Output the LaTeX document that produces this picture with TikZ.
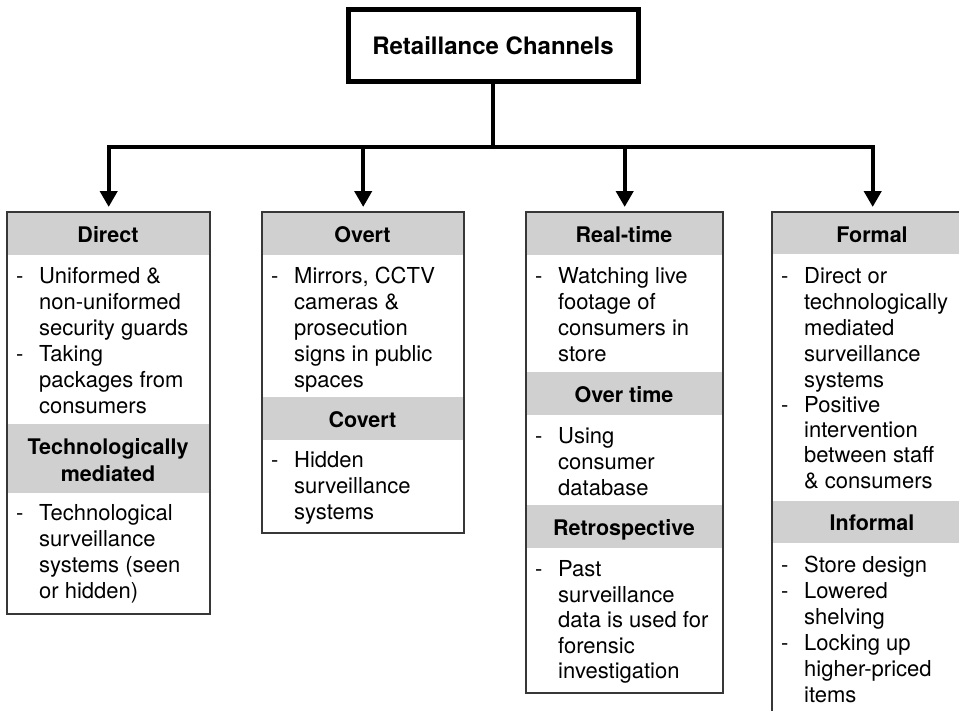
\documentclass[tikz,border=0pt]{standalone}
\usepackage{fontspec}
\setmainfont{TeX Gyre Heros}
\usetikzlibrary{arrows.meta}
\definecolor{hdrgray}{RGB}{208,208,208}
\definecolor{edgegray}{RGB}{55,55,55}
\newcommand\tl[4]{\node[tline] (#1) at (#2,#3) {#4};}
\newcommand\hl[4]{\node[hline] (#1) at (#2,#3) {#4};}
\begin{document}
\begin{tikzpicture}[x=1pt,y=-1pt,
  tline/.style={anchor=base west,inner sep=0pt,font=\fontsize{22}{26}\selectfont},
  hline/.style={anchor=base,inner sep=0pt,font=\fontsize{21.5}{26}\selectfont\bfseries},
  hdr/.style={fill=hdrgray},
  boxframe/.style={draw=edgegray,line width=1.4pt,fill=none},
  conn/.style={line width=4pt},
  arr/.style={line width=4pt,-{Triangle[width=17pt,length=16pt]},shorten >=5pt}]
\useasboundingbox (0,0) rectangle (959,710);
\clip (0,0) rectangle (959,710);
% title
\node[draw,line width=5pt,minimum width=290pt,minimum height=72pt,inner sep=0pt,
  font=\fontsize{24}{28}\selectfont\bfseries] (title) at (493,45.5) {Retaillance Channels};
% boxes (frames as nodes)
\node[boxframe,anchor=north west,minimum width=202pt,minimum height=401pt,inner sep=0pt] (b1) at (7,212) {};
\node[boxframe,anchor=north west,minimum width=201pt,minimum height=320pt,inner sep=0pt] (b2) at (262,212) {};
\node[boxframe,anchor=north west,minimum width=196pt,minimum height=480pt,inner sep=0pt] (b3) at (526,212) {};
\node[boxframe,anchor=north west,minimum width=200pt,minimum height=520pt,inner sep=0pt] (b4) at (772,212) {};
% headers
\fill[hdr] (7,212) rectangle (209,255);
\fill[hdr] (7,424) rectangle (209,493);
\fill[hdr] (262,212) rectangle (463,255);
\fill[hdr] (262,397) rectangle (463,440);
\fill[hdr] (526,212) rectangle (722,255);
\fill[hdr] (526,372) rectangle (722,415);
\fill[hdr] (526,505) rectangle (722,548);
\fill[hdr] (772,212) rectangle (972,254);
\fill[hdr] (772,501) rectangle (972,543);
% redraw frames on top
\draw[boxframe] (b1.north west) rectangle (b1.south east);
\draw[boxframe] (b2.north west) rectangle (b2.south east);
\draw[boxframe] (b3.north west) rectangle (b3.south east);
\draw[boxframe] (b4.north west) rectangle (b4.south east);
% connectors
\coordinate (hub) at (493,147);
\draw[conn] (title.south) -- (hub);
\draw[conn,line cap=rect] (b1.north |- hub) -- (b4.north |- hub);
\draw[arr] (b1.north |- hub) -- (b1.north);
\draw[arr] (b2.north |- hub) -- (b2.north);
\draw[arr] (b3.north |- hub) -- (b3.north);
\draw[arr] (b4.north |- hub) -- (b4.north);
% box 1
\hl{h11}{108}{242}{Direct}
\tl{d11}{16}{283}{-}
\tl{t111}{39}{283}{Uniformed \&}
\tl{t112}{39}{309}{non-uniformed}
\tl{t113}{39}{335}{security guards}
\tl{d12}{16}{361}{-}
\tl{t121}{39}{361}{Taking}
\tl{t122}{39}{387}{packages from}
\tl{t123}{39}{413}{consumers}
\hl{h12a}{108}{454}{Technologically}
\hl{h12b}{108}{481}{mediated}
\tl{d13}{16}{520}{-}
\tl{t131}{39}{520}{Technological}
\tl{t132}{39}{546}{surveillance}
\tl{t133}{39}{572}{systems (seen}
\tl{t134}{39}{598}{or hidden)}
% box 2
\hl{h21}{362.5}{242}{Overt}
\tl{d21}{271}{283}{-}
\tl{t211}{294}{283}{Mirrors, CCTV}
\tl{t212}{294}{309}{cameras \&}
\tl{t213}{294}{335}{prosecution}
\tl{t214}{294}{361}{signs in public}
\tl{t215}{294}{387}{spaces}
\hl{h22}{362.5}{427}{Covert}
\tl{d22}{271}{467}{-}
\tl{t221}{294}{467}{Hidden}
\tl{t222}{294}{493}{surveillance}
\tl{t223}{294}{519}{systems}
% box 3
\hl{h31}{624}{242}{Real-time}
\tl{d31}{535}{283}{-}
\tl{t311}{558}{283}{Watching live}
\tl{t312}{558}{309}{footage of}
\tl{t313}{558}{335}{consumers in}
\tl{t314}{558}{361}{store}
\hl{h32}{624}{402}{Over time}
\tl{d32}{535}{443}{-}
\tl{t321}{558}{443}{Using}
\tl{t322}{558}{469}{consumer}
\tl{t323}{558}{495}{database}
\hl{h33}{624}{535}{Retrospective}
\tl{d33}{535}{576}{-}
\tl{t331}{558}{576}{Past}
\tl{t332}{558}{602}{surveillance}
\tl{t333}{558}{627}{data is used for}
\tl{t334}{558}{653}{forensic}
\tl{t335}{558}{678}{investigation}
% box 4
\hl{h41}{872}{242}{Formal}
\tl{d41}{781}{283}{-}
\tl{t411}{804}{283}{Direct or}
\tl{t412}{804}{309}{technologically}
\tl{t413}{804}{335}{mediated}
\tl{t414}{804}{361}{surveillance}
\tl{t415}{804}{387}{systems}
\tl{d42}{781}{412}{-}
\tl{t421}{804}{412}{Positive}
\tl{t422}{804}{437}{intervention}
\tl{t423}{804}{462}{between staff}
\tl{t424}{804}{488}{\& consumers}
\hl{h42}{872}{530}{Informal}
\tl{d43}{781}{572}{-}
\tl{t431}{804}{572}{Store design}
\tl{d44}{781}{598}{-}
\tl{t441}{804}{598}{Lowered}
\tl{t442}{804}{624}{shelving}
\tl{d45}{781}{650}{-}
\tl{t451}{804}{650}{Locking up}
\tl{t452}{804}{676}{higher-priced}
\tl{t453}{804}{702}{items}
\end{tikzpicture}
\end{document}
